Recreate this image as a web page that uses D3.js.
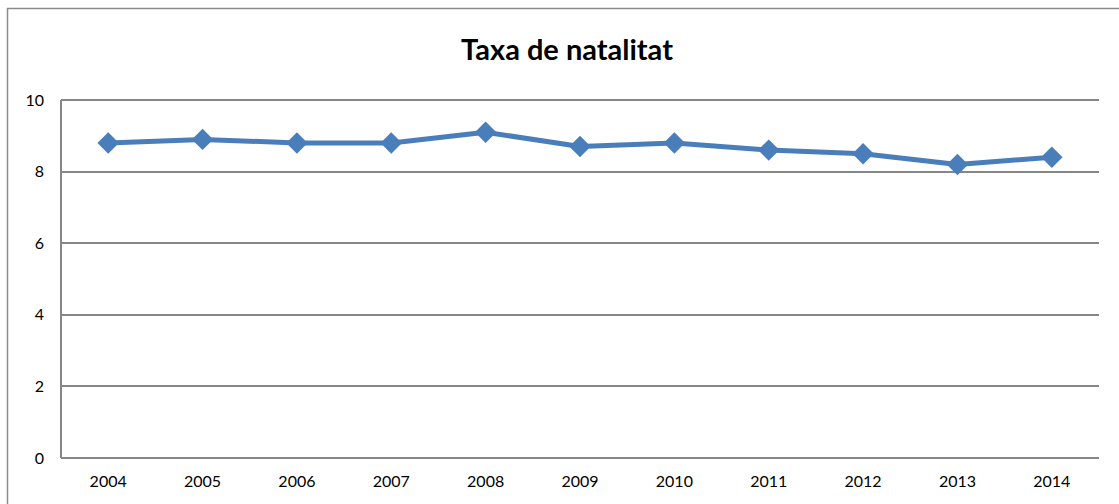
<!DOCTYPE html>
<meta charset="utf-8">
<style>
body { margin: 0; background: #fff; }
.axis text { font: 16px Lato, "Open Sans", sans-serif; fill: #000; }
.grid line { stroke: #868686; stroke-width: 2; shape-rendering: crispEdges; }
</style>
<svg width="1119" height="504"></svg>
<script src="https://d3js.org/d3.v7.min.js"></script>
<script>

var years = ["2004", "2005", "2006", "2007", "2008", "2009", "2010", "2011", "2012", "2013", "2014"];
var rates = [8.8, 8.9, 8.8, 8.8, 9.1, 8.7, 8.8, 8.6, 8.5, 8.2, 8.4];
var yTicks = [0, 2, 4, 6, 8, 10];

var svg = d3.select("svg"),
    margin = {top: 100, right: 20, bottom: 46, left: 61},
    width = 1099 - margin.left,
    height = 458 - margin.top;

// outer chart border (left + top visible)
svg.append("path")
    .attr("d", "M7.5,504 V8.5 H1119")
    .attr("fill", "none")
    .attr("stroke", "#8c8c8c")
    .attr("stroke-width", 1.5);

svg.append("text")
    .attr("x", 567)
    .attr("y", 60)
    .attr("text-anchor", "middle")
    .style("font", "bold 29px Lato, 'Open Sans', sans-serif")
    .text("Taxa de natalitat");

var x = d3.scaleBand().domain(years).range([0, width]);
var y = d3.scaleLinear().domain([0, 10]).range([height, 0]);

var g = svg.append("g")
    .attr("transform", "translate(" + margin.left + "," + margin.top + ")");

// horizontal gridlines
g.append("g").attr("class", "grid")
  .selectAll("line").data(yTicks).enter().append("line")
    .attr("x1", 0).attr("x2", width)
    .attr("y1", function(d) { return Math.round(y(d)); })
    .attr("y2", function(d) { return Math.round(y(d)); });

// left axis line
g.append("line")
    .attr("x1", 0).attr("x2", 0).attr("y1", 0).attr("y2", height)
    .attr("stroke", "#868686").attr("stroke-width", 2)
    .style("shape-rendering", "crispEdges");

var yAxis = d3.axisLeft(y).tickValues(yTicks).tickSize(0).tickPadding(17);
g.append("g").attr("class", "axis")
    .call(yAxis)
    .call(function(s) { s.select(".domain").remove(); });

var xAxis = d3.axisBottom(x).tickSize(0).tickPadding(18);
g.append("g").attr("class", "axis")
    .attr("transform", "translate(0," + height + ")")
    .call(xAxis)
    .call(function(s) { s.select(".domain").remove(); });

var line = d3.line()
    .x(function(d, i) { return x(years[i]) + x.bandwidth() / 2; })
    .y(function(d) { return y(d); });

g.append("path")
    .datum(rates)
    .attr("fill", "none")
    .attr("stroke", "#4a7ebb")
    .attr("stroke-width", 5)
    .attr("stroke-linejoin", "round")
    .attr("d", line);

var diamond = d3.symbol().type(d3.symbolSquare).size(230);
g.selectAll(".pt").data(rates).enter().append("path")
    .attr("class", "pt")
    .attr("d", diamond)
    .attr("fill", "#4a7ebb")
    .attr("transform", function(d, i) {
      return "translate(" + (x(years[i]) + x.bandwidth() / 2) + "," + y(d) + ") rotate(45)";
    });

</script>
